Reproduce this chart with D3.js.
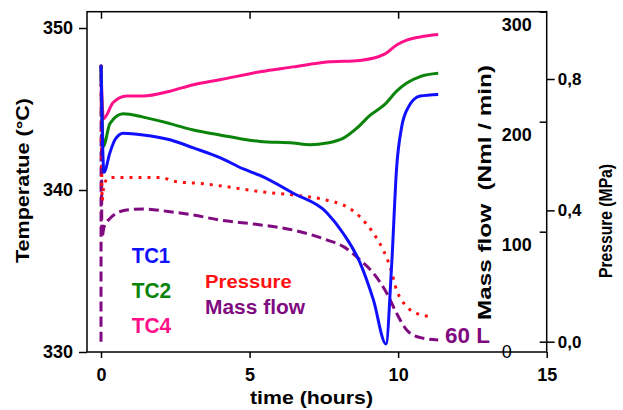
<!DOCTYPE html>
<html>
<head>
<meta charset="utf-8">
<script src="https://cdn.jsdelivr.net/npm/d3@7/dist/d3.min.js"></script>
<style>
  html, body { margin: 0; padding: 0; background: #fff; }
  svg { display: block; font-family: "Liberation Sans", Arial, sans-serif; font-weight: bold; }
</style>
</head>
<body>
<svg id="chart" width="623" height="410"></svg>
<script>
// Time axis (hours) and its ticks
const timeTicks = [0, 5, 10, 15];
const tempTicks = [330, 340, 350];
const flowTicks = [0, 100, 200, 300];
const pressureTicks = [0, 0.4, 0.8];

// Thermocouple TC1 (°C)
const tc1Time = [0, 0.1, 0.3, 0.47, 0.75, 1.42, 2.32, 3.11, 4.0, 4.79, 5.35, 6.47, 7.6, 8.16, 8.72, 9.17, 9.59, 9.78, 9.95, 10.12, 10.34, 10.74, 11.35];
const tc1Temp = [347.7, 341.1, 342.3, 343.1, 343.5, 343.4, 343.1, 342.6, 342.0, 341.3, 340.9, 339.8, 338.6, 337.3, 335.5, 333.2, 330.5, 335.3, 341.4, 343.9, 345.1, 345.8, 345.9];

// Thermocouple TC2 (°C)
const tc2Time = [0, 0.08, 0.3, 0.75, 1.42, 2.32, 3.11, 4.0, 4.9, 5.35, 6.47, 7.03, 7.6, 8.16, 8.6, 9.05, 9.56, 9.95, 10.29, 10.74, 11.35];
const tc2Temp = [347.7, 342.7, 344.1, 344.7, 344.5, 344.1, 343.7, 343.4, 343.1, 343.0, 342.9, 342.8, 342.9, 343.2, 343.8, 344.6, 345.3, 346.1, 346.6, 347.0, 347.2];

// Thermocouple TC4 (°C)
const tc4Time = [0, 0.08, 0.41, 0.86, 1.42, 2.32, 3.11, 4.0, 5.35, 6.47, 7.6, 8.72, 9.56, 9.95, 10.29, 10.74, 11.35];
const tc4Temp = [347.7, 344.4, 345.4, 345.8, 345.8, 346.1, 346.5, 346.8, 347.3, 347.6, 347.9, 348.0, 348.4, 348.95, 349.25, 349.45, 349.6];

// Pressure (MPa)
const pressureTime = [0, 0.04, 0.1, 0.3, 1.0, 1.99, 2.55, 3.33, 4.23, 5.35, 6.47, 7.6, 8.16, 8.72, 9.17, 9.5, 9.73, 9.95, 10.29, 10.62, 11.13];
const pressureValue = [0.84, 0.43, 0.48, 0.50, 0.50, 0.50, 0.487, 0.482, 0.472, 0.457, 0.447, 0.431, 0.416, 0.38, 0.33, 0.279, 0.228, 0.157, 0.107, 0.086, 0.076];

// Mass flow (Nml/min)
const flowTime = [0, 0.005, 0.03, 0.1, 0.3, 0.86, 1.42, 2.32, 3.11, 4.0, 5.13, 6.47, 7.6, 8.16, 8.72, 9.17, 9.62, 9.95, 10.34, 10.85, 11.35];
const flowValue = [0, 251, 95, 104, 112, 119.7, 120.6, 118.2, 115.2, 110.6, 107, 101.5, 92.5, 86.4, 74.3, 62.2, 44, 25.8, 9.1, 3.1, 1.5];

const zip = (xs, ys) => xs.map((t, i) => [t, ys[i]]);

const svg = d3.select("#chart");
const frameLeft = 87, frameRight = 546.7, frameTop = 11.7, frameBottom = 352;

const x = d3.scaleLinear().domain([0, 15]).range([101, frameRight]);
const yT = d3.scaleLinear().domain([330, 350]).range([frameBottom, 28]);
const yM = d3.scaleLinear().domain([0, 300]).range([341.7, frameTop]);
const yP = d3.scaleLinear().domain([0, 0.8]).range([341.7, 79]);

const colors = { tc1: "#1010ff", tc2: "#0a840a", tc4: "#ff1088", pressure: "#ff1010", flow: "#800a80" };

// Plot frame
svg.append("rect")
  .attr("x", frameLeft).attr("y", frameTop)
  .attr("width", frameRight - frameLeft).attr("height", frameBottom - frameTop)
  .attr("fill", "none").attr("stroke", "#000").attr("stroke-width", 1.5);

function styleAxis(g, size) {
  g.select(".domain").remove();
  g.selectAll("line").attr("stroke", "#000").attr("stroke-width", 1.5);
  g.selectAll("text").attr("fill", "#000").attr("font-size", size).attr("font-weight", "bold")
    .attr("font-family", "Liberation Sans, Arial, sans-serif");
}

// Temperature axis (left)
svg.append("g").attr("transform", `translate(${frameLeft},0)`)
  .call(d3.axisLeft(yT).tickValues(tempTicks).tickSize(8).tickPadding(6).tickFormat(d3.format("d")))
  .call(g => styleAxis(g, 18));

// Time axis (bottom) and mirrored ticks on the top edge
svg.append("g").attr("transform", `translate(0,${frameBottom})`)
  .call(d3.axisBottom(x).tickValues(timeTicks).tickSize(6).tickPadding(10).tickFormat(d3.format("d")))
  .call(g => styleAxis(g, 18));
svg.append("g").attr("transform", `translate(0,${frameTop})`)
  .call(d3.axisTop(x).tickValues(timeTicks.slice(0, 3)).tickSize(-7).tickFormat(""))
  .call(g => styleAxis(g, 18));

// Mass flow axis (inside, on the right edge)
svg.append("g").attr("transform", `translate(${frameRight},0)`)
  .call(d3.axisLeft(yM).tickValues(flowTicks).tickSize(7).tickPadding(8).tickFormat(d3.format("d")))
  .call(g => styleAxis(g, 18))
  .call(g => g.selectAll("text").attr("dy", "1.05em"))
  .call(g => g.selectAll(".tick").filter(d => d === 0).select("text")
    .attr("font-weight", "normal").attr("text-anchor", "middle").attr("x", -40).attr("dy", "0.9em"));

// Pressure axis (outside, on the right edge)
svg.append("g").attr("transform", `translate(${frameRight},0)`)
  .call(d3.axisRight(yP).tickValues(pressureTicks).tickSize(8).tickPadding(3)
    .tickFormat(d => d3.format(".1f")(d).replace(".", ",")))
  .call(g => styleAxis(g, 17));

// Axis titles
function title(text, tx, ty, rot, size, len) {
  svg.append("text")
    .attr("transform", `translate(${tx},${ty}) rotate(${rot})`)
    .attr("text-anchor", "middle")
    .attr("font-size", size)
    .attr("textLength", len).attr("lengthAdjust", "spacingAndGlyphs")
    .style("white-space", "pre")
    .text(text);
}
title("Temperatue (°C)", 29, 180.5, -90, 19, 165);
title("Mass flow  (Nml / min)", 491, 192.5, -90, 19, 255);
title("Pressure (MPa)", 612, 221, -90, 19, 114);
title("time (hours)", 311.5, 404, 0, 18, 123);

// Series
const lineT = d3.line().x(d => x(d[0])).y(d => yT(d[1])).curve(d3.curveMonotoneX);
const lineM = d3.line().x(d => x(d[0])).y(d => yM(d[1])).curve(d3.curveMonotoneX);
const lineP = d3.line().x(d => x(d[0])).y(d => yP(d[1])).curve(d3.curveMonotoneX);

svg.append("path").datum(zip(flowTime, flowValue)).attr("d", lineM)
  .attr("fill", "none").attr("stroke", colors.flow).attr("stroke-width", 3)
  .attr("stroke-dasharray", "10,5");
svg.append("path").datum(zip(pressureTime, pressureValue)).attr("d", lineP)
  .attr("fill", "none").attr("stroke", colors.pressure).attr("stroke-width", 3)
  .attr("stroke-dasharray", "3,6");
[[tc4Time, tc4Temp, colors.tc4], [tc2Time, tc2Temp, colors.tc2], [tc1Time, tc1Temp, colors.tc1]]
  .forEach(([t, v, c]) => {
    svg.append("path").datum(zip(t, v)).attr("d", lineT)
      .attr("fill", "none").attr("stroke", c).attr("stroke-width", 3)
      .attr("stroke-linejoin", "round");
  });

// Series labels
function label(text, tx, ty, color, size, len) {
  svg.append("text").attr("x", tx).attr("y", ty)
    .attr("fill", color).attr("font-size", size)
    .attr("textLength", len).attr("lengthAdjust", "spacingAndGlyphs")
    .text(text);
}
label("TC1", 131.7, 263, colors.tc1, 22, 38.5);
label("TC2", 131.7, 298, colors.tc2, 22, 39.5);
label("TC4", 131.7, 333, colors.tc4, 22, 39.5);
label("Pressure", 205, 288, colors.pressure, 19, 86.7);
label("Mass flow", 205, 314, colors.flow, 20, 100);
label("60 L", 445, 343, colors.flow, 22, 45);
</script>
</body>
</html>
